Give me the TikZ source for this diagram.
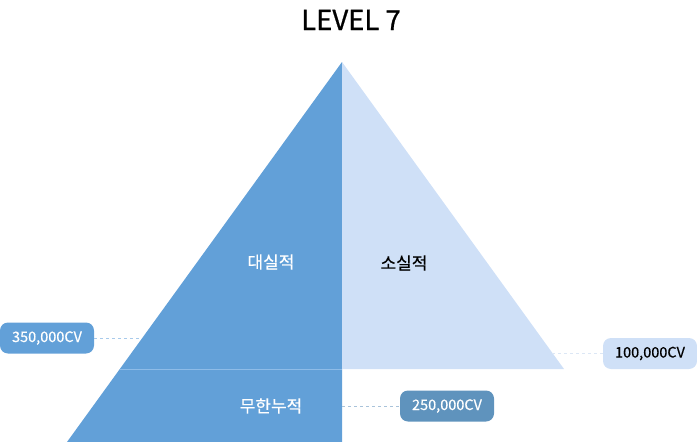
\documentclass[tikz,border=0pt]{standalone}
\usepackage{fontspec}
\setmainfont{Noto Sans CJK KR}
\definecolor{dblue}{HTML}{62A0D8}
\definecolor{lblue}{HTML}{CFE0F7}
\definecolor{sblue}{HTML}{5F93BD}
\definecolor{divline}{HTML}{8EBCE8}
\definecolor{dashA}{HTML}{A8CAEB}
\definecolor{dashB}{HTML}{DCE7F5}
\definecolor{dashC}{HTML}{A9C3DA}
\tikzset{
  badge/.style={rounded corners=8pt, minimum width=94pt, minimum height=31pt, inner sep=0pt, font=\fontsize{14.5}{16}\selectfont\addfontfeatures{FakeBold=0.4}},
  lbl/.style={inner sep=0pt, font=\fontsize{17}{19}\selectfont\addfontfeatures{FakeBold=0.4}},
  conn/.style={dashed, dash pattern=on 3pt off 3pt, line width=1pt}
}
\begin{document}
\begin{tikzpicture}[x=1pt,y=-1pt]
\useasboundingbox (0,0) rectangle (697,442);
% shapes
\coordinate (apex) at (342,62);
\fill[dblue] (apex) -- (67,442) -- (342,442) -- cycle;
\fill[lblue] (apex) -- (564,369) -- (342,369) -- cycle;
\draw[divline, line width=1pt] (119.5,369) -- (342,369);
% title
\node[anchor=base, inner sep=0pt, font=\fontsize{27.5}{31}\selectfont\addfontfeatures{FakeBold=0.8}] (title) at (351,30) {LEVEL 7};
% labels
\node[lbl, text=white] (big) at (271,262) {대실적};
\node[lbl, text=black] (small) at (404,263) {소실적};
\node[lbl, text=white] (inf) at (271,406) {무한누적};
% badges
\node[badge, fill=dblue, text=white] (b1) at (47,338) {350,000CV};
\node[badge, fill=lblue, text=black] (b2) at (650,353.5) {100,000CV};
\node[badge, fill=sblue, text=white] (b3) at (447,406) {250,000CV};
% connector ends
\coordinate (e1) at (142,338);
\coordinate (e2) at (552,353.5);
\coordinate (e3) at (342,406);
\draw[conn, dashA] (b1.east) -- (e1);
\draw[conn, dashB] (e2) -- (b2.west);
\draw[conn, dashC] (e3) -- (b3.west);
\end{tikzpicture}
\end{document}
